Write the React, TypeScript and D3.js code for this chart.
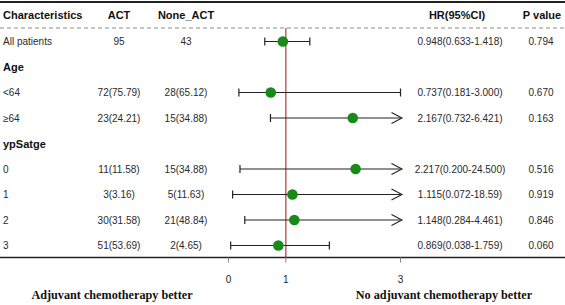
import React from "react";
import * as d3 from "d3";

const rowLabels = ["All patients", "Age", "<64", "≥64", "ypSatge", "0", "1", "2", "3"];
const isGroup = [false, true, false, false, true, false, false, false, false];
const actCol = ["95", "", "72(75.79)", "23(24.21)", "", "11(11.58)", "3(3.16)", "30(31.58)", "51(53.69)"];
const noneCol = ["43", "", "28(65.12)", "15(34.88)", "", "15(34.88)", "5(11.63)", "21(48.84)", "2(4.65)"];
const hrVals: (number | null)[] = [0.948, null, 0.737, 2.167, null, 2.217, 1.115, 1.148, 0.869];
const loVals: (number | null)[] = [0.633, null, 0.181, 0.732, null, 0.2, 0.072, 0.284, 0.038];
const hiVals: (number | null)[] = [1.418, null, 3.0, 6.421, null, 24.5, 18.59, 4.461, 1.759];
const hrText = ["0.948(0.633-1.418)", "", "0.737(0.181-3.000)", "2.167(0.732-6.421)", "", "2.217(0.200-24.500)", "1.115(0.072-18.59)", "1.148(0.284-4.461)", "0.869(0.038-1.759)"];
const pText = ["0.794", "", "0.670", "0.163", "", "0.516", "0.919", "0.846", "0.060"];
const xTicks = [0, 1, 3];

const W = 565;
const H = 305;

export default function App() {
  const x = d3.scaleLinear().domain([0, 3]).range([228.5, 400.5]);
  const y = d3.scaleLinear().domain([0, 8]).range([41.5, 245.5]);
  const font = "'Liberation Sans', Arial, sans-serif";
  const serif = "'Liberation Serif', 'Times New Roman', serif";
  const green = "#178a17";
  const axisY = 257.5;
  const xMax = 3;

  return (
    <svg width={W} height={H} style={{ position: "absolute", left: 0, top: 0 }}>
      <rect width={W} height={H} fill="#fff" />
      <line x1={0} x2={W} y1={2} y2={2} stroke="#222" strokeWidth={2} />
      <g fontFamily={font} fontWeight="bold" fontSize={11} fill="#111">
        <text x={3} y={15} dominantBaseline="central">Characteristics</text>
        <text x={119} y={15} textAnchor="middle" dominantBaseline="central">ACT</text>
        <text x={186} y={15} textAnchor="middle" dominantBaseline="central">None_ACT</text>
        <text x={457} y={15} textAnchor="middle" dominantBaseline="central">HR(95%CI)</text>
        <text x={542} y={15} textAnchor="middle" dominantBaseline="central">P value</text>
      </g>
      <line x1={0} x2={W} y1={28} y2={28} stroke="#8a8a8a" strokeWidth={1} strokeDasharray="4,3" />
      <line x1={x(1)} x2={x(1)} y1={28} y2={axisY} stroke="#b5484a" strokeWidth={1.3} />
      {rowLabels.map((lab, i) => (
        <g key={i} fontFamily={font} fontSize={10} fill="#2a2a2a">
          <text
            x={3}
            y={y(i)}
            dominantBaseline="central"
            fontWeight={isGroup[i] ? "bold" : "normal"}
            fontSize={isGroup[i] ? 11 : 10}
            fill={isGroup[i] ? "#111" : "#2a2a2a"}
          >
            {lab}
          </text>
          <text x={119} y={y(i)} textAnchor="middle" dominantBaseline="central">{actCol[i]}</text>
          <text x={186} y={y(i)} textAnchor="middle" dominantBaseline="central">{noneCol[i]}</text>
          <text x={460} y={y(i)} textAnchor="middle" dominantBaseline="central">{hrText[i]}</text>
          <text x={541} y={y(i)} textAnchor="middle" dominantBaseline="central">{pText[i]}</text>
        </g>
      ))}
      {hrVals.map((hr, i) => {
        if (hr === null) return null;
        const lo = loVals[i] as number;
        const hi = hiVals[i] as number;
        const cy = y(i);
        const x0 = x(lo);
        const clipped = hi > xMax;
        const x1 = x(Math.min(hi, xMax));
        return (
          <g key={"ci" + i} stroke="#222" strokeWidth={1.2} fill="none">
            <line x1={x0} x2={x1} y1={cy} y2={cy} />
            <line x1={x0} x2={x0} y1={cy - 4} y2={cy + 4} />
            {clipped ? (
              <polyline points={`${x1 - 9},${cy - 5.5} ${x1 + 1.5},${cy} ${x1 - 9},${cy + 5.5}`} strokeWidth={1.1} />
            ) : (
              <line x1={x1} x2={x1} y1={cy - 4} y2={cy + 4} />
            )}
            <circle cx={x(hr)} cy={cy} r={5.3} fill={green} stroke="none" />
          </g>
        );
      })}
      <line x1={0} x2={W} y1={axisY} y2={axisY} stroke="#222" strokeWidth={1.5} />
      {xTicks.map((t) => (
        <g key={"t" + t}>
          <line x1={x(t)} x2={x(t)} y1={axisY} y2={axisY + 5} stroke="#888" strokeWidth={1} />
          <text x={x(t)} y={279} textAnchor="middle" dominantBaseline="central" fontFamily={font} fontSize={10} fill="#222">
            {t}
          </text>
        </g>
      ))}
      <g fontFamily={serif} fontWeight="bold" fontSize={12.2} fill="#111">
        <text x={112} y={295} textAnchor="middle" dominantBaseline="central">Adjuvant chemotherapy better</text>
        <text x={444} y={295} textAnchor="middle" dominantBaseline="central">No adjuvant chemotherapy better</text>
      </g>
    </svg>
  );
}
